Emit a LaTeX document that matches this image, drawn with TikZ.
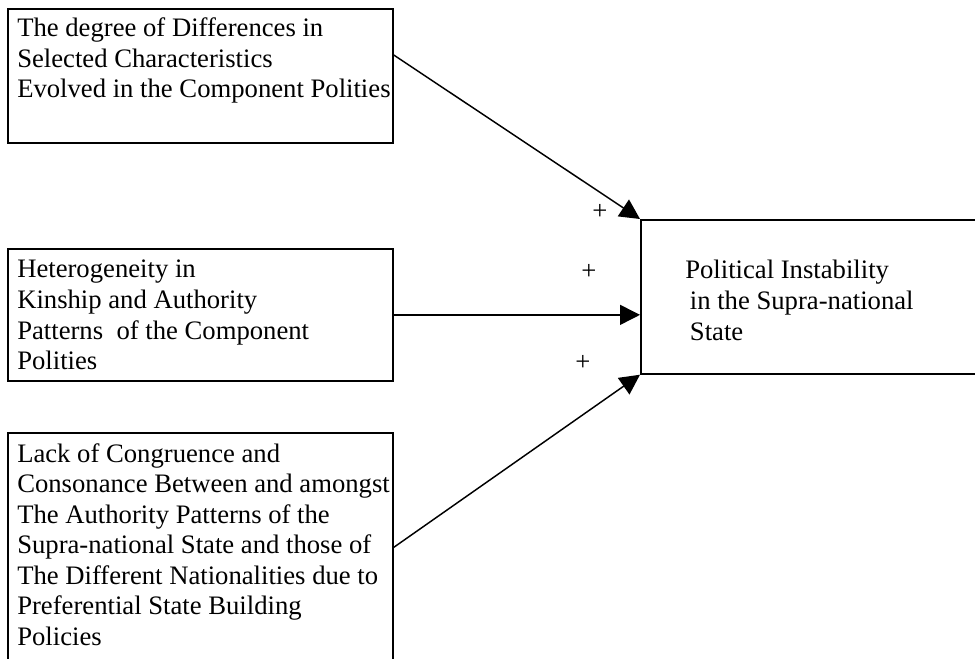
\documentclass[tikz,border=0pt]{standalone}
\usepackage{fontspec}
\setmainfont{Liberation Serif}
\usetikzlibrary{arrows.meta,calc}
\begin{document}
\begin{tikzpicture}[x=0.75pt,y=-0.75pt,
  box/.style={draw, line width=1.3pt, inner sep=0pt, anchor=north west},
  txt/.style={inner sep=0pt, anchor=base west, font=\fontsize{20}{22.9}\selectfont},
  plus/.style={inner sep=0pt, font=\fontsize{20}{22.9}\selectfont},
  arr/.style={line width=1.1pt, -{Triangle[length=15pt,width=15pt]}}]
\useasboundingbox (0,0) rectangle (975,659);
\clip (0,0) rectangle (975,659);
\node[box, minimum width=288.75pt, minimum height=100.5pt] (b1) at (7,8) {};
\node[box, minimum width=288.75pt, minimum height=99pt] (b2) at (7,248) {};
\node[box, minimum width=288.75pt, minimum height=171.75pt] (b3) at (7,432) {};
\node[box, minimum width=262.5pt, minimum height=115.5pt] (b4) at (640,219) {};
\node[txt] (t1) at (17,36.5) {\begin{tabular}[t]{@{}l@{}}The degree of Differences in\\Selected Characteristics\\Evolved in the Component Polities\end{tabular}};
\node[txt] (t2) at (17,278) {\begin{tabular}[t]{@{}l@{}}Heterogeneity in\\Kinship and Authority\\Patterns\ \ of the Component\\Polities\end{tabular}};
\node[txt] (t3) at (17,462) {\begin{tabular}[t]{@{}l@{}}Lack of Congruence and\\Consonance Between and amongst\\The Authority Patterns of the\\Supra-national State and those of\\The Different Nationalities due to\\Preferential State Building\\Policies\end{tabular}};
\node[txt] (t4) at (685,279) {\begin{tabular}[t]{@{}l@{}}Political Instability\\\hspace{3.5pt}in the Supra-national\\\hspace{3.5pt}State\end{tabular}};
\draw[arr] ($(b1.north east)+(0,47)$) -- (b4.north west);
\draw[arr] (b2.east) -- (b2.east -| b4.west);
\draw[arr] (b3.east) -- (b4.south west);
\node[plus] (p1) at (600,212) {+};
\node[plus] (p2) at (589,272) {+};
\node[plus] (p3) at (583,363) {+};
\end{tikzpicture}
\end{document}
